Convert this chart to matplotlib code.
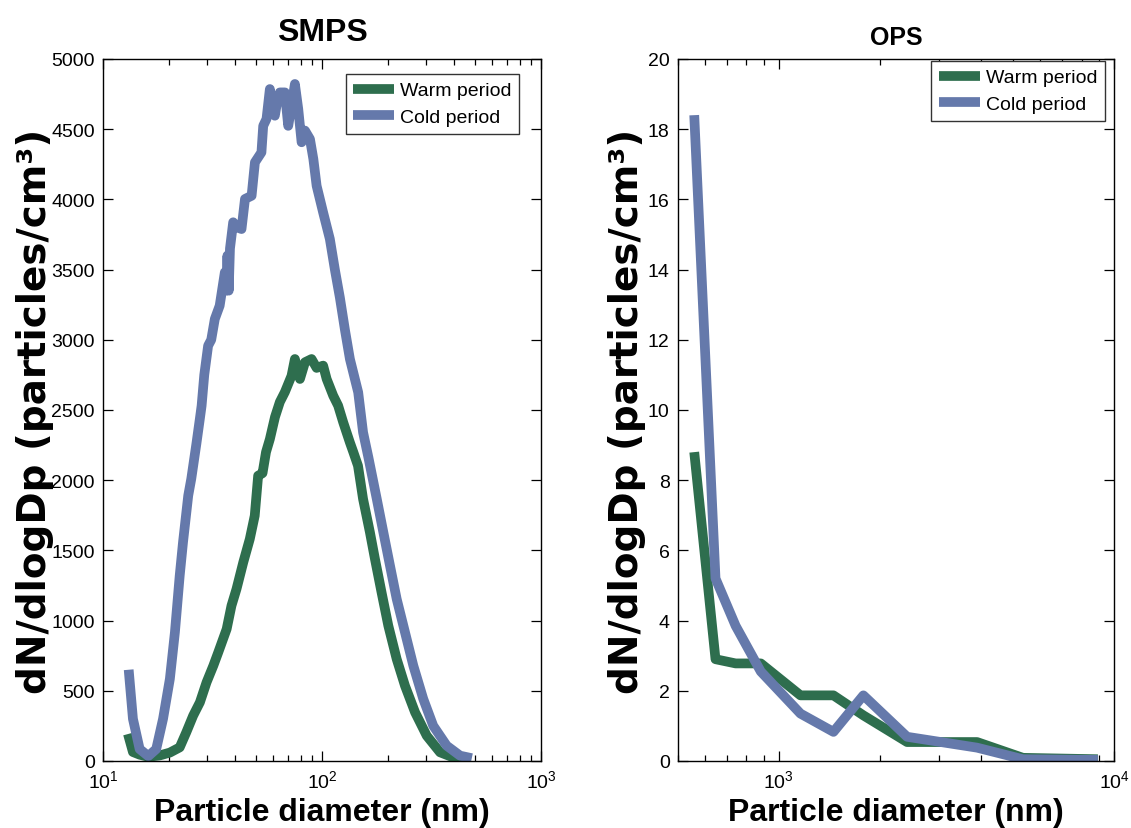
import matplotlib
matplotlib.use("Agg")
import matplotlib.pyplot as plt
from matplotlib import font_manager
from matplotlib.ticker import LogLocator, MultipleLocator, NullFormatter

# ---------------- data ----------------
smps_cold_d = [13.1, 13.7, 14.7, 16.1, 17.5, 18.8, 20.2, 21.3, 22.4, 23.2, 24.5, 25.3,
               26.7, 27.7, 28.2, 29.0, 30.2, 31.2, 32.4, 34.1, 36.0, 36.5, 37.0, 37.5,
               38.0, 39.3, 41.0, 42.9, 44.5, 47.7, 49.4, 52.9, 53.9, 55.8, 57.8, 59.3,
               60.9, 62.5, 64.2, 67.7, 70.1, 72.6, 75.2, 77.9, 80.7, 83.6, 88.1, 91.3,
               94.5, 101.2, 108.6, 114.5, 120.7, 127.3, 134.1, 146.3, 154.0, 163.0,
               177.9, 190.6, 204.4, 219.3, 239.3, 261.2, 290.0, 322.0, 371.0, 427.0, 483.0]
smps_cold = [650, 300, 85, 35, 85, 300, 585, 917, 1320, 1560, 1890, 2010,
             2260, 2440, 2530, 2750, 2958, 3000, 3148, 3243, 3481, 3350, 3600, 3350,
             3650, 3837, 3800, 3789, 4003, 4026, 4264, 4335, 4524, 4573, 4786, 4650,
             4596, 4700, 4762, 4762, 4524, 4667, 4822, 4644, 4407, 4490, 4430, 4288,
             4097, 3907, 3718, 3500, 3300, 3070, 2863, 2626, 2341, 2160,
             1866, 1629, 1391, 1154, 917, 679, 442, 251, 109, 38, 20]

smps_warm_d = [13.0, 13.7, 14.7, 16.1, 18.2, 20.2, 22.4, 24.0, 25.8, 27.7, 29.7, 31.9,
               33.6, 36.7, 38.6, 40.7, 43.7, 46.8, 49.3, 51.1, 53.5, 55.5, 57.8, 61.0,
               64.2, 67.7, 72.6, 75.2, 79.3, 83.6, 89.6, 94.5, 101.2, 105.0, 112.5,
               118.5, 125.0, 134.0, 139.0, 146.0, 154.0, 165.5, 174.5, 187.0, 200.8,
               219.3, 239.3, 266.0, 300.8, 346.0, 398.0, 457.0]
smps_warm = [192, 64, 45, 30, 40, 60, 97, 204, 323, 418, 560, 679,
             774, 940, 1106, 1225, 1415, 1581, 1747, 2032, 2050, 2200, 2293, 2450,
             2557, 2628, 2744, 2863, 2721, 2840, 2863, 2800, 2816, 2721, 2602,
             2531, 2412, 2270, 2200, 2103, 1866, 1629, 1439, 1202, 964,
             726, 536, 347, 180, 62, 25, 15]

ops_d = [559, 647, 743, 883, 1160, 1455, 1787, 2413, 3903, 5350, 8950]
ops_warm = [8.8, 2.9, 2.78, 2.78, 1.87, 1.87, 1.3, 0.54, 0.54, 0.09, 0.05]
ops_cold = [18.4, 5.2, 3.85, 2.55, 1.35, 0.83, 1.87, 0.69, 0.38, 0.05, 0.03]

labels = ["Warm period", "Cold period"]
titles = ["SMPS", "OPS"]
xlabel = "Particle diameter (nm)"
ylabel = "dN/dlogDp (particles/cm³)"

# ---------------- style ----------------
def has_font(name):
    try:
        font_manager.findfont(font_manager.FontProperties(family=name), fallback_to_default=False)
        return True
    except Exception:
        return False

narrow = "Liberation Sans Narrow" if has_font("Liberation Sans Narrow") else "Liberation Sans"
plt.rcParams["font.family"] = ["Liberation Sans", "DejaVu Sans"]
plt.rcParams["mathtext.default"] = "regular"

GREEN = "#2e6e4e"
BLUE = "#6579ab"
LW = 7.0

W, H = 1131, 829
fig = plt.figure(figsize=(W / 100, H / 100), dpi=100)

ax1 = fig.add_axes([103 / W, 67 / H, 438 / W, 702 / H])
ax2 = fig.add_axes([678 / W, 67 / H, 436 / W, 702 / H])

line_kw = dict(lw=LW, solid_joinstyle="round", solid_capstyle="butt")
ax1.plot(smps_warm_d, smps_warm, color=GREEN, label=labels[0], **line_kw)
ax1.plot(smps_cold_d, smps_cold, color=BLUE, label=labels[1], **line_kw)
ax2.plot(ops_d, ops_warm, color=GREEN, label=labels[0], **line_kw)
ax2.plot(ops_d, ops_cold, color=BLUE, label=labels[1], **line_kw)

ax1.set_xscale("log")
ax2.set_xscale("log")
ax1.set_xlim(10, 1000)
ax2.set_xlim(500, 10000)
ax1.set_ylim(0, 5000)
ax2.set_ylim(0, 20)
ax1.yaxis.set_major_locator(MultipleLocator(500))
ax2.yaxis.set_major_locator(MultipleLocator(2))

for ax in (ax1, ax2):
    ax.xaxis.set_major_locator(LogLocator(base=10))
    ax.xaxis.set_minor_locator(LogLocator(base=10, subs=range(2, 10)))
    ax.xaxis.set_minor_formatter(NullFormatter())
    ax.tick_params(which="both", direction="in", top=True, right=True, width=0.9)
    ax.tick_params(which="major", length=7, labelsize=14, pad=6)
    ax.tick_params(which="minor", length=4)
    for s in ax.spines.values():
        s.set_linewidth(1.0)
    ax.set_xlabel(xlabel, fontsize=27 if narrow != "Liberation Sans" else 23,
                  family=[narrow, "DejaVu Sans"], fontweight="bold", labelpad=4)

ax1.set_ylabel(ylabel, family=["DejaVu Sans"], fontweight="bold", fontsize=28, labelpad=-2)
ax2.set_ylabel(ylabel, family=["DejaVu Sans"], fontweight="bold", fontsize=28, labelpad=1)

ax1.set_title(titles[0], fontsize=23, fontweight="bold", pad=14)
ax2.set_title(titles[1], fontsize=18, fontweight="bold", pad=11)

leg_kw = dict(loc="upper right", borderaxespad=0, fancybox=False, fontsize=14,
              handlelength=2.1, handletextpad=0.3, labelspacing=0.45, borderpad=0.4,
              framealpha=1)
l1 = ax1.legend(bbox_to_anchor=(0.9505, 0.9786), **leg_kw)
l2 = ax2.legend(bbox_to_anchor=(0.979, 0.997), **leg_kw)
for lg in (l1, l2):
    lg.get_frame().set_edgecolor("#333333")
    lg.get_frame().set_linewidth(1.0)

fig.savefig("out.png", dpi=100)
